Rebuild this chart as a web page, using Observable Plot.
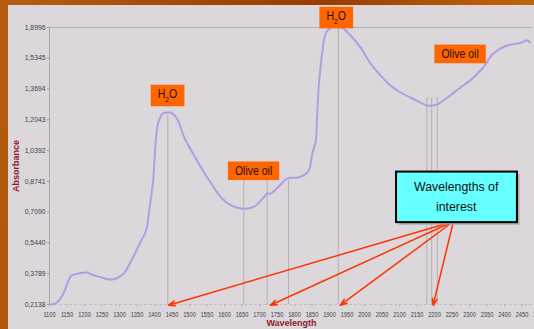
<!DOCTYPE html>
<html>
<head>
<meta charset="utf-8">
<script src="https://cdn.jsdelivr.net/npm/d3@7"></script>
<script src="https://cdn.jsdelivr.net/npm/@observablehq/plot@0.6"></script>
<style>
  html, body { margin: 0; padding: 0; }
  body {
    width: 534px; height: 329px; overflow: hidden; position: relative;
    background: linear-gradient(100deg, #b65e10 0%, #a24606 35%, #9a3c02 55%, #b85a08 80%, #c86c12 100%);
  }
  #panel { position: absolute; left: 8px; top: 5px; width: 540px; height: 330px; background: #dbd7db; }
  #chart { position: absolute; left: 0; top: 0; width: 545px; }
  #chart svg { max-width: none !important; }
</style>
</head>
<body>
<div id="panel"></div>
<div id="chart"></div>
<script>
// ---- data ----
const xTicks = [1100,1150,1200,1250,1300,1350,1400,1450,1500,1550,1600,1650,1700,1750,1800,1850,1900,1950,2000,2050,2100,2150,2200,2250,2300,2350,2400,2450,2500];
const yTicks = [0.2138,0.3789,0.5440,0.7090,0.8741,1.0392,1.2043,1.3694,1.5345,1.6996];
const yTickLabels = ["0,2138","0,3789","0,5440","0,7090","0,8741","1,0392","1,2043","1,3694","1,5345","1,8996"];

const wavelength = [1103,1118,1140,1154,1163,1183,1205,1228,1248,1271,1291,1314,1334,1362,1376,1385,1396,1410,1424,1438,1452,1467,1485,1505,1533,1562,1590,1619,1647,1666,1690,1709,1723,1732,1752,1780,1809,1826,1841,1851,1861,1864,1870,1880,1889,1903,1922,1937,1960,1989,2017,2046,2074,2103,2131,2160,2179,2207,2217,2245,2274,2302,2339,2368,2407,2445,2464,2473];
const absorbance = [0.214,0.220,0.273,0.343,0.369,0.380,0.385,0.369,0.359,0.348,0.353,0.385,0.450,0.557,0.611,0.718,0.879,1.185,1.238,1.245,1.238,1.201,1.110,1.040,0.949,0.863,0.788,0.745,0.729,0.729,0.745,0.782,0.809,0.809,0.841,0.890,0.895,0.906,0.933,1.024,1.094,1.201,1.399,1.576,1.667,1.698,1.702,1.698,1.657,1.592,1.507,1.442,1.389,1.351,1.324,1.297,1.281,1.287,1.297,1.335,1.378,1.415,1.485,1.560,1.603,1.616,1.630,1.621];

const markerWl  = [1438,1655,1722,1783,1925,2178,2192,2208];
const markerTop = [1.245,0.879,0.879,0.879,1.6996,1.324,1.324,1.324];

const tagText = ["H2O","H2O","Olive oil","Olive oil"];
const tagWl   = [1437,1919,1683,2273];
const tagAbs  = [1.343,1.761,0.931,1.558];

const boxText = ["Wavelengths of\ninterest"];
const boxWl = 2262, boxAbs = 0.805;

const arrowFromWl = 2254, arrowFromAbs = 0.659;
const arrowToWl = [1440,1731,1931,2196];
const arrowToAbs = 0.21;

// ---- build ----
const curve = wavelength.map((w,i) => ({w, a: absorbance[i]}));
const markers = markerWl.map((w,i) => ({w, top: markerTop[i]}));
const tags = tagText.map((t,i) => ({t, w: tagWl[i], a: tagAbs[i]}));
const sans = '"Liberation Sans",Arial,sans-serif';

const chart = Plot.plot({
  width: 545, height: 329,
  marginLeft: 49, marginRight: 6, marginTop: 27, marginBottom: 25,
  style: {background: "transparent", overflow: "visible", maxWidth: "none"},
  x: {domain: [1100, 2500]},
  y: {domain: [yTicks[0], yTicks[yTicks.length-1]]},
  marks: [
    Plot.ruleY([yTicks[0]], {stroke: "#c2bec2", strokeDasharray: "3,2"}),
    Plot.ruleY([yTicks[yTicks.length-1]], {x1: 1100, x2: 2480, stroke: "#b4b0b4"}),
    Plot.ruleX([1100], {stroke: "#a8a4a8"}),
    Plot.ruleX(markers, {x: "w", y1: yTicks[0], y2: "top", stroke: "#b4b0b4", strokeWidth: 1}),
    Plot.axisX(xTicks, {tickSize: 3, tickPadding: 4, tickFormat: d => String(d), fontSize: 7.5, fontFamily: sans, stroke: "#bdb9bd", fill: "#444", label: null}),
    Plot.axisY(yTicks, {tickSize: 2, tickPadding: 2, tickFormat: (d,i) => yTickLabels[i], fontSize: 6.8, fontFamily: sans, stroke: "#999", fill: "#444", label: null}),
    Plot.line(curve, {x: "w", y: "a", stroke: "#b79be2", strokeWidth: 2, curve: "catmull-rom"}),
    Plot.text(["Absorbance"], {frameAnchor: "left", rotate: -90, dx: -33, textAnchor: "middle", lineAnchor: "middle", fill: "#8e1b2b", fontWeight: "bold", fontSize: 9, fontFamily: sans}),
    Plot.text(["Wavelength"], {frameAnchor: "bottom", dy: 19, dx: -3, textAnchor: "middle", lineAnchor: "middle", fill: "#8e1b2b", fontWeight: "bold", fontSize: 9, fontFamily: sans}),
    Plot.arrow(arrowToWl, {x1: () => arrowFromWl, y1: () => arrowFromAbs, x2: d => d, y2: () => arrowToAbs, stroke: "#ff3300", strokeWidth: 1.5, headLength: 7, headAngle: 40}),
    Plot.text(tags, {x: "w", y: "a", text: "t", fontSize: 12.5, fontFamily: sans, fill: "#2a1000", textAnchor: "middle", lineAnchor: "middle"}),
    Plot.text(boxText, {x: () => boxWl, y: () => boxAbs, text: d => d, fontSize: 12.3, lineHeight: 1.67, fontFamily: sans, fill: "#111", textAnchor: "middle", lineAnchor: "middle"})
  ]
});
document.getElementById("chart").appendChild(chart);

const NS = "http://www.w3.org/2000/svg";
const allTexts = Array.from(chart.querySelectorAll("text"));

// condensed x tick labels
const xLabelSet = new Set(xTicks.map(String));
allTexts.filter(t => xLabelSet.has(t.textContent)).forEach(t => {
  t.setAttribute("transform", (t.getAttribute("transform") || "") + " scale(0.76,1)");
});

// background boxes behind annotation texts
function addBox(t, padX, padY, fill, stroke, shadow, sx) {
  const bb = t.getBBox();
  const tr = t.getAttribute("transform") || "";
  const mk = (dx, dy, f, s) => {
    const r = document.createElementNS(NS, "rect");
    r.setAttribute("x", bb.x * sx - padX + dx);
    r.setAttribute("y", bb.y - padY + dy);
    r.setAttribute("width", bb.width * sx + 2*padX);
    r.setAttribute("height", bb.height + 2*padY);
    r.setAttribute("fill", f);
    if (s) { r.setAttribute("stroke", s); r.setAttribute("stroke-width", 2); } else r.setAttribute("stroke", "none");
    if (tr) r.setAttribute("transform", tr);
    t.parentNode.insertBefore(r, t);
  };
  if (shadow) mk(2.5, 2.5, shadow, null);
  mk(0, 0, fill, stroke);
  if (sx !== 1) t.setAttribute("transform", tr + ` scale(${sx},1)`);
}
allTexts.filter(t => tagText.includes(t.textContent)).forEach(t => {
  if (t.textContent === "H2O") {
    t.textContent = "";
    const a = document.createElementNS(NS, "tspan"); a.textContent = "H";
    const b = document.createElementNS(NS, "tspan"); b.textContent = "2";
    b.setAttribute("font-size", "8"); b.setAttribute("dy", "4");
    const c = document.createElementNS(NS, "tspan"); c.textContent = "O"; c.setAttribute("dy", "-4");
    t.append(a, b, c);
  }
  addBox(t, 7, 2.3, "#ff6600", null, null, 0.84);
});
allTexts.filter(t => t.textContent.startsWith("Wavelengths of")).forEach(t => {
  addBox(t, 18, 8, "#66ffff", "#000", "#aaa6aa", 1);
});
</script>
</body>
</html>
